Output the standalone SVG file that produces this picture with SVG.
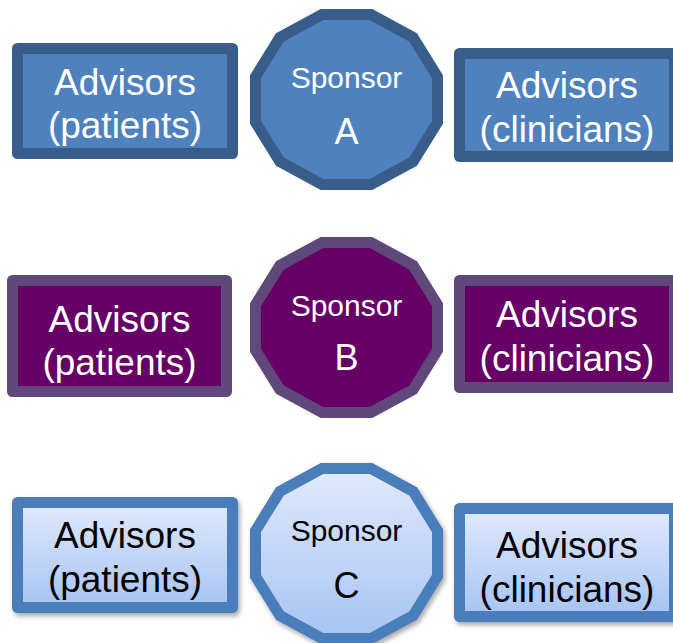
<svg xmlns="http://www.w3.org/2000/svg" xmlns:xlink="http://www.w3.org/1999/xlink" width="673" height="643" viewBox="0 0 673 643">
<defs>
<style>
.box{stroke-width:11;stroke-linejoin:round}
.dod{stroke-width:11;stroke-linejoin:miter}
.a{fill:#4F81BD;stroke:#385D8A}
.b{fill:#660066;stroke:#5F497A}
.c{fill:url(#gc);stroke:#4A7EBB}
.t{font-family:"Liberation Sans",Arial,sans-serif;text-anchor:middle}
.big{font-size:37px}
.sp{font-size:30px}
.lt{font-size:36px}
.w{fill:#FFFFFF}
.k{fill:#000000}
</style>
<linearGradient id="gc" x1="0" y1="0" x2="0" y2="1">
<stop offset="0" stop-color="#E0EAFC"/>
<stop offset="1" stop-color="#A6C3F3"/>
</linearGradient>
<filter id="sh" x="-10%" y="-10%" width="125%" height="130%">
<feDropShadow dx="2" dy="3" stdDeviation="2.5" flood-color="#000" flood-opacity="0.35"/>
</filter>
<polygon id="dodec" points="-24.4,-85 24.4,-85 66.6,-62.2 91,-22.8 91,22.8 66.6,62.2 24.4,85 -24.4,85 -66.6,62.2 -91,22.8 -91,-22.8 -66.6,-62.2"/>
</defs>
<rect width="673" height="643" fill="#FFFFFF"/>
<g id="connectors"/>

<g id="patientsA">
<rect class="box a" x="17.5" y="48.5" width="215" height="105"/>
<text class="t big w" x="125" y="95">Advisors</text>
<text class="t big w" x="125" y="138">(patients)</text>
</g>
<g id="sponsorA">
<use xlink:href="#dodec" class="dod a" transform="translate(346.5,99.5)"/>
<text class="t sp w" x="346.5" y="88">Sponsor</text>
<text class="t lt w" x="346.5" y="144">A</text>
</g>
<g id="cliniciansA">
<rect class="box a" x="459.5" y="53.5" width="215" height="103"/>
<text class="t big w" x="567" y="98">Advisors</text>
<text class="t big w" x="567" y="142">(clinicians)</text>
</g>

<g id="patientsB">
<rect class="box b" x="12.5" y="280.5" width="214" height="111"/>
<text class="t big w" x="119.5" y="332">Advisors</text>
<text class="t big w" x="119.5" y="375">(patients)</text>
</g>
<g id="sponsorB">
<use xlink:href="#dodec" class="dod b" transform="translate(346.5,327.5)"/>
<text class="t sp w" x="346.5" y="316">Sponsor</text>
<text class="t lt w" x="346.5" y="370">B</text>
</g>
<g id="cliniciansB">
<rect class="box b" x="459.5" y="280.5" width="215" height="107"/>
<text class="t big w" x="567" y="327">Advisors</text>
<text class="t big w" x="567" y="371">(clinicians)</text>
</g>

<g id="patientsC">
<rect class="box c" x="17.5" y="502.5" width="215" height="105" filter="url(#sh)"/>
<text class="t big k" x="125" y="548">Advisors</text>
<text class="t big k" x="125" y="592">(patients)</text>
</g>
<g id="sponsorC">
<use xlink:href="#dodec" class="dod c" transform="translate(346.5,553.5)" filter="url(#sh)"/>
<text class="t sp k" x="346.5" y="541">Sponsor</text>
<text class="t lt k" x="346.5" y="598">C</text>
</g>
<g id="cliniciansC">
<rect class="box c" x="459.5" y="508.5" width="215" height="108" filter="url(#sh)"/>
<text class="t big k" x="567" y="558">Advisors</text>
<text class="t big k" x="567" y="602">(clinicians)</text>
</g>
</svg>
